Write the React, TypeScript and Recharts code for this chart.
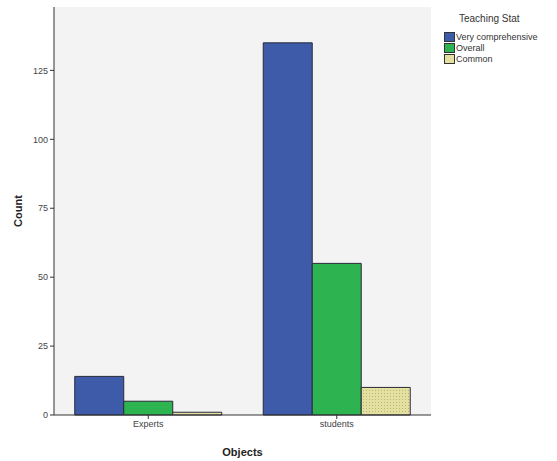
import {
  BarChart,
  Bar,
  XAxis,
  YAxis,
  CartesianGrid,
} from "recharts";

const objects = ["Experts", "students"];
const veryComprehensive = [14, 135];
const overall = [5, 55];
const common = [1, 10];
const yTicks = [0, 25, 50, 75, 100, 125];

const series = [
  { key: "veryComprehensive", name: "Very comprehensive", color: "#3d5ba9", fill: "#3d5ba9" },
  { key: "overall", name: "Overall", color: "#2db34f", fill: "#2db34f" },
  { key: "common", name: "Common", color: "#e4e0a0", fill: "url(#dots)" },
];

const data = objects.map((obj, i) => ({
  object: obj,
  veryComprehensive: veryComprehensive[i],
  overall: overall[i],
  common: common[i],
}));

const font = '"Liberation Sans", Arial, sans-serif';

function LegendBox() {
  return (
    <div
      style={{
        position: "absolute",
        left: 444,
        top: 13,
        width: 113,
        fontFamily: font,
        color: "#333",
      }}
    >
      <div style={{ fontSize: 10, marginLeft: 15, marginBottom: 7 }}>
        Teaching Stat
      </div>
      {series.map((s) => (
        <div
          key={s.key}
          style={{ display: "flex", alignItems: "center", fontSize: 9, height: 11, whiteSpace: "nowrap" }}
        >
          <span
            style={{
              display: "inline-block",
              width: 9,
              height: 8,
              background: s.color,
              border: "1px solid #333",
              marginRight: 1,
            }}
          />
          {s.name}
        </div>
      ))}
    </div>
  );
}

export default function App() {
  return (
    <div style={{ position: "absolute", left: 0, top: 0, width: 557, height: 461, background: "#fff" }}>
      <BarChart
        width={557}
        height={461}
        data={data}
        margin={{ top: 7, right: 126, left: 0, bottom: 0 }}
        barCategoryGap="11%"
        barGap={0}
      >
        <defs>
          <pattern id="dots" width="3" height="3" patternUnits="userSpaceOnUse">
            <rect width="3" height="3" fill="#e4e0a0" />
            <rect width="1" height="1" fill="#b8b47a" />
          </pattern>
        </defs>
        <CartesianGrid horizontal={false} vertical={false} fill="#f3f3f3" />
        <XAxis
          dataKey="object"
          height={46}
          axisLine={{ stroke: "#333" }}
          tickLine={{ stroke: "#333" }}
          tickSize={4}
          tick={{ fontSize: 9, fill: "#444", fontFamily: font }}
          label={{
            value: "Objects",
            position: "insideBottom",
            offset: 5,
            style: { fontSize: 11, fontWeight: "bold", fill: "#222", fontFamily: font },
          }}
        />
        <XAxis
          xAxisId="top"
          orientation="top"
          dataKey="object"
          height={0}
          tick={false}
          tickLine={false}
          axisLine={{ stroke: "#999" }}
        />
        <YAxis
          width={54}
          domain={[0, 148]}
          ticks={yTicks}
          axisLine={{ stroke: "#333" }}
          tickLine={{ stroke: "#333" }}
          tickSize={4}
          tick={{ fontSize: 9, fill: "#444", fontFamily: font }}
          label={{
            value: "Count",
            angle: -90,
            position: "insideLeft",
            offset: 18,
            style: { fontSize: 11, fontWeight: "bold", fill: "#222", fontFamily: font, textAnchor: "middle" },
          }}
        />
        <YAxis
          yAxisId="right"
          orientation="right"
          width={0}
          domain={[0, 148]}
          tick={false}
          tickLine={false}
          axisLine={{ stroke: "#999" }}
        />
        {series.map((s) => (
          <Bar
            key={s.key}
            dataKey={s.key}
            name={s.name}
            fill={s.fill}
            stroke="#2a2a3a"
            strokeWidth={1}
            isAnimationActive={false}
          />
        ))}
      </BarChart>
      <LegendBox />
    </div>
  );
}
